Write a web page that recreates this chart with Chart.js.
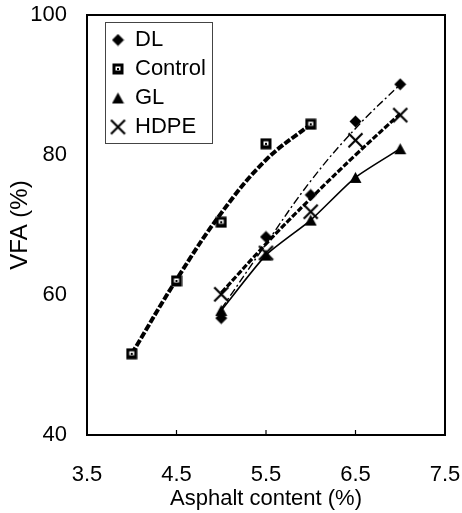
<!DOCTYPE html>
<html>
<head>
<meta charset="utf-8">
<script src="https://cdn.jsdelivr.net/npm/chart.js@4/dist/chart.umd.min.js"></script>
<style>
  body { margin: 0; background: #fff; }
  #wrap { width: 462px; height: 513px; }
</style>
</head>
<body>
<div id="wrap"><canvas id="vfaChart" width="462" height="513"></canvas></div>
<script>
// asphalt contents (%) for each mix
const controlX = [4.0, 4.5, 5.0, 5.5, 6.0];
const mixX = [5.0, 5.5, 6.0, 6.5, 7.0];

const dlVfa = [56.7, 68.3, 74.3, 84.8, 90.1];
const controlVfa = [51.6, 62.0, 70.4, 81.6, 84.4];
const glVfa = [57.8, 65.7, 70.7, 76.8, 80.9];
const hdpeVfa = [60.1, 66.0, 71.9, 82.1, 85.7];

// fitted trend lines at the same contents
const dlFit = [58.0, 67.3, 76.3, 83.8, 90.1];
const controlFit = [51.6, 62.2, 71.7, 79.3, 84.4];
const hdpeFit = [60.3, 67.3, 73.8, 80.0, 85.9];

const xTicks = [3.5, 4.5, 5.5, 6.5, 7.5];
const yTicks = [40, 60, 80, 100];

const toPoints = (xs, ys) => xs.map((x, i) => ({ x: x, y: ys[i] }));

// marker images so the legend and the plot use the same size
function marker(size, draw) {
  const c = document.createElement('canvas');
  c.width = size; c.height = size;
  const g = c.getContext('2d');
  g.fillStyle = '#000'; g.strokeStyle = '#000';
  draw(g, size / 2);
  return c;
}
const diamond = marker(13, (g, m) => {
  g.beginPath(); g.moveTo(m, 0.5); g.lineTo(12.5, m); g.lineTo(m, 12.5); g.lineTo(0.5, m);
  g.closePath(); g.fill();
});
const square = marker(12, (g) => {
  g.fillRect(0.5, 0.5, 11, 11);
  g.fillStyle = '#fff'; g.fillRect(3.5, 3.5, 5, 4);
  g.fillStyle = '#000'; g.fillRect(5, 5, 2, 2);
});
const triangle = marker(13, (g, m) => {
  g.beginPath(); g.moveTo(m, 1); g.lineTo(12.5, 12); g.lineTo(0.5, 12);
  g.closePath(); g.fill();
});
const cross = marker(17, (g) => {
  g.lineWidth = 2.2;
  g.beginPath(); g.moveTo(1.5, 1.5); g.lineTo(15.5, 15.5); g.moveTo(15.5, 1.5); g.lineTo(1.5, 15.5);
  g.stroke();
});

// box round the plot, inner ticks, and a frame for the legend
const framePlugin = {
  id: 'frame',
  afterLayout(chart) {
    const a = chart.chartArea, lg = chart.legend;
    lg.left = a.left + 18; lg.top = a.top + 7;
    lg.right = a.right; lg.bottom = a.bottom;
  },
  afterDraw(chart) {
    const ctx = chart.ctx, a = chart.chartArea, xs = chart.scales.x;
    ctx.save();
    ctx.strokeStyle = '#000';
    ctx.lineWidth = 2;
    ctx.strokeRect(a.left, a.top, a.right - a.left, a.bottom - a.top);
    ctx.lineWidth = 1.2;
    xs.ticks.forEach((t, i) => {
      if (i === 0 || i === xs.ticks.length - 1) return;
      const px = xs.getPixelForValue(t.value);
      ctx.beginPath(); ctx.moveTo(px, a.bottom); ctx.lineTo(px, a.bottom - 5); ctx.stroke();
    });
    const lg = chart.legend;
    ctx.strokeStyle = '#444';
    ctx.lineWidth = 1;
    ctx.strokeRect(lg.left + 0.5, lg.top + 0.5, 107, 121);
    ctx.restore();
  }
};

Chart.defaults.font.family = '"Liberation Sans", Arial, sans-serif';
Chart.defaults.color = '#000';

new Chart(document.getElementById('vfaChart'), {
  type: 'scatter',
  data: {
    datasets: [
      { label: 'DL', data: toPoints(mixX, dlVfa), pointStyle: diamond, pointRadius: 5, showLine: false },
      { label: 'Control', data: toPoints(controlX, controlVfa), pointStyle: square, pointRadius: 5, showLine: false },
      { label: 'GL', data: toPoints(mixX, glVfa), pointStyle: triangle, pointRadius: 5, showLine: true,
        borderColor: '#000', borderWidth: 1.6, tension: 0.2 },
      { label: 'HDPE', data: toPoints(mixX, hdpeVfa), pointStyle: cross, pointRadius: 5, showLine: false },
      // trend lines, kept out of the legend
      { label: 'DL fit', data: toPoints(mixX, dlFit), showLine: true, pointRadius: 0,
        borderColor: '#000', borderWidth: 1.4, borderDash: [8, 3, 2, 3], tension: 0.4 },
      { label: 'Control fit', data: toPoints(controlX, controlFit), showLine: true, pointRadius: 0,
        borderColor: '#000', borderWidth: 4, borderDash: [7, 2], tension: 0.4 },
      { label: 'HDPE fit', data: toPoints(mixX, hdpeFit), showLine: true, pointRadius: 0,
        borderColor: '#000', borderWidth: 3.2, borderDash: [6, 2], tension: 0.4 }
    ]
  },
  options: {
    responsive: false,
    animation: false,
    layout: { padding: { left: 0, top: 15, right: 17, bottom: 0 } },
    scales: {
      x: {
        type: 'linear',
        min: xTicks[0],
        max: xTicks[xTicks.length - 1],
        grid: { display: false },
        border: { display: false },
        afterBuildTicks: (s) => { s.ticks = xTicks.map(v => ({ value: v })); },
        afterFit: (s) => { s.height = 78; s.paddingLeft = 0; s.paddingRight = 0; },
        ticks: {
          padding: 19,
          font: { size: 22 },
          callback: (v) => v.toFixed(1)
        },
        title: {
          display: true,
          text: 'Asphalt content (%)',
          font: { size: 22 },
          padding: { top: 0, bottom: 1 }
        }
      },
      y: {
        min: yTicks[0],
        max: yTicks[yTicks.length - 1],
        grid: { display: false },
        border: { display: false },
        afterBuildTicks: (s) => { s.ticks = yTicks.map(v => ({ value: v })); },
        afterFit: (s) => { s.width = 87; s.paddingTop = 0; s.paddingBottom = 0; },
        ticks: { padding: 12, font: { size: 22 } },
        title: {
          display: true,
          text: 'VFA (%)',
          font: { size: 24 },
          padding: { top: 6, bottom: 0 }
        }
      }
    },
    plugins: {
      tooltip: { enabled: false },
      legend: {
        position: 'chartArea',
        align: 'start',
        labels: {
          usePointStyle: true,
          boxWidth: 12,
          boxHeight: 12,
          padding: 7,
          font: { size: 22 },
          filter: (item) => item.datasetIndex < 4
        }
      }
    }
  },
  plugins: [framePlugin]
});
</script>
</body>
</html>
